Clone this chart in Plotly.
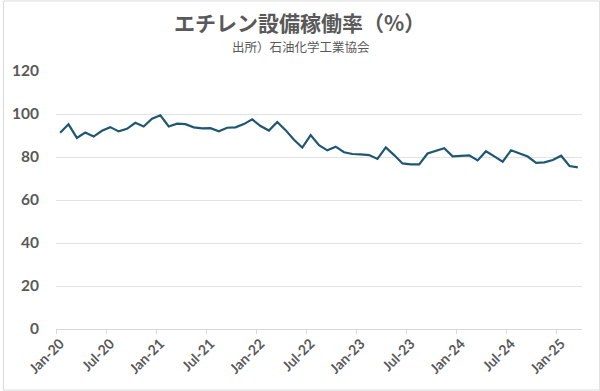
import plotly.graph_objects as go
import pandas as pd

months = [d.strftime("%b-%y") for d in pd.date_range("2020-01-01", "2025-03-01", freq="MS")]
utilization = [
    91.3, 95.2, 88.9, 91.4, 89.5, 92.2, 93.9, 91.9, 93.1, 95.9,
    94.2, 97.8, 99.4, 94.2, 95.5, 95.3, 93.8, 93.3, 93.4, 92.0,
    93.6, 93.8, 95.3, 97.5, 94.4, 92.3, 96.3, 92.5, 88.0, 84.4,
    90.2, 85.5, 83.1, 84.8, 82.2, 81.4, 81.2, 80.9, 79.1, 84.5,
    80.9, 77.0, 76.6, 76.6, 81.6, 82.7, 84.1, 80.3, 80.5, 80.8,
    78.4, 82.7, 80.3, 77.8, 83.1, 81.7, 80.2, 77.3, 77.5, 78.6,
    80.6, 75.8, 75.2,
]
tick_labels = ["Jan-20", "Jul-20", "Jan-21", "Jul-21", "Jan-22", "Jul-22",
               "Jan-23", "Jul-23", "Jan-24", "Jul-24", "Jan-25"]
y_ticks = [0, 20, 40, 60, 80, 100, 120]
title_text = "エチレン設備稼働率（%）"
subtitle_text = "出所）石油化学工業協会"

x_idx = list(range(len(months)))
label_pos = [months.index(t) for t in tick_labels]

gray = "#595959"
fig = go.Figure()
fig.add_trace(go.Scatter(
    x=x_idx, y=utilization, mode="lines",
    line=dict(color="#1F5773", width=2.2),
    customdata=months, hovertemplate="%{customdata}: %{y}<extra></extra>",
    showlegend=False,
))

L, R, T, B = 53.3, 18.3, 70.7, 61.7
W, H = 600, 391
pw, ph = W - L - R, H - T - B

def py(px_from_top):
    return 1 + (T - px_from_top) / ph

def px(px_from_left):
    return (px_from_left - L) / pw

fig.update_layout(
    width=W, height=H,
    margin=dict(l=L, r=R, t=T, b=B, pad=0),
    paper_bgcolor="white", plot_bgcolor="white",
    annotations=[
        dict(text=title_text, xref="paper", yref="paper", x=px(298), y=py(21.7),
             xanchor="center", yanchor="middle", showarrow=False,
             font=dict(family="Noto Sans CJK JP", size=21, color=gray, weight="bold")),
        dict(text=subtitle_text, xref="paper", yref="paper", x=px(299), y=py(46),
             xanchor="center", yanchor="middle", showarrow=False,
             font=dict(family="Noto Sans CJK JP", size=12.5, color=gray)),
    ],
    xaxis=dict(
        range=[-0.5, len(months) - 0.5],
        tickmode="array", tickvals=label_pos, ticktext=tick_labels,
        tickangle=-45, showgrid=False, zeroline=False,
        showline=True, linecolor="#D9D9D9", linewidth=1,
        ticks="",
        minor=dict(tickmode="linear", tick0=-0.5, dtick=6, ticks="outside",
                   ticklen=4, tickcolor="#D9D9D9", showgrid=False),
        tickfont=dict(family="Lato", size=14, color=gray, weight="bold"),
    ),
    yaxis=dict(
        range=[0, 120], tickmode="array", tickvals=y_ticks,
        showgrid=True, gridcolor="#E3E3E3", gridwidth=1, zeroline=False,
        tickfont=dict(family="Lato", size=15.5, color=gray, weight="bold"),
        ticks="", ticklabelstandoff=16,
    ),
    shapes=[dict(
        type="rect", xref="paper", yref="paper",
        x0=-(L - 0.5) / pw, x1=1 + (R - 0.5) / pw,
        y0=-(B - 0.5) / ph, y1=1 + (T - 0.5) / ph,
        line=dict(color="#D9D9D9", width=1), fillcolor="rgba(0,0,0,0)",
        layer="below",
    )],
)

fig.write_html("out.html", config={"displayModeBar": False},
               post_script="document.body.style.margin='0';")
